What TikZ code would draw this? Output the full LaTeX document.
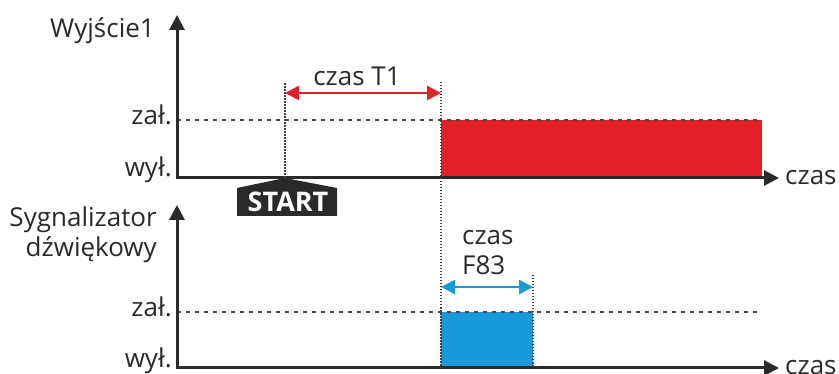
\documentclass[tikz,border=0pt]{standalone}
\usepackage{fontspec}
\setmainfont{Open Sans}
\usetikzlibrary{positioning, arrows.meta, calc}
\definecolor{ink}{RGB}{42,42,42}
\definecolor{relayred}{RGB}{227,32,38}
\definecolor{buzzblue}{RGB}{24,154,218}

\begin{document}
\begin{tikzpicture}[
    x=1pt, y=-1pt,
    font=\fontsize{26}{30}\selectfont,
    >={Triangle[length=15pt, width=15pt]},
    axis/.style={<->, line width=3pt, draw=ink, line join=miter},
    level/.style={line width=2pt, draw=ink!85, dash pattern=on 4pt off 5pt},
    guide/.style={line width=1.2pt, draw=ink!90, dash pattern=on 1.5pt off 1.5pt},
    span/.style={{Triangle[length=14pt, width=14pt]}-{Triangle[length=14pt, width=14pt]},
        line width=2.6pt, draw=#1},
    lbl/.style={text=ink, inner sep=0pt}
  ]
    \useasboundingbox (0,0) rectangle (839,374);
    % time marks
    \coordinate (start) at (285,178);
    \coordinate (t1end) at (441,82);
    \coordinate (f83end) at (533,275);
    % upper chart: Wyjscie1
    \coordinate (y1) at (177,15);
    \coordinate (o1) at (177,178);
    \coordinate (x1) at (779,178);
    \coordinate (on1) at (177,120);
    \fill[relayred] (441,120) rectangle (762,178);
    \draw[level] (on1) -- (762,120);
    \draw[axis] (y1) -- (o1) -- (x1);
    \node[lbl, anchor=base east] (name1) at (155,38) {Wyjście1};
    \node[lbl, anchor=base east] (zal1) at (172,125) {zał.};
    \node[lbl, anchor=base east] (wyl1) at (172,177) {wył.};
    \node[lbl, anchor=west, xshift=6pt] (czas1) at (x1) {czas};
    % lower chart: buzzer
    \coordinate (y2) at (177,205);
    \coordinate (o2) at (177,368);
    \coordinate (x2) at (779,368);
    \coordinate (on2) at (177,312);
    \fill[buzzblue] (441,312) rectangle (533,368);
    \draw[level] (on2) -- (762,312);
    \draw[axis] (y2) -- (o2) -- (x2);
    \node[lbl, anchor=base east, align=right] (name2) at (157,257) {Sygnalizator\\dźwiękowy};
    \node[lbl, anchor=base east] (zal2) at (172,317) {zał.};
    \node[lbl, anchor=base east] (wyl2) at (172,368) {wył.};
    \node[lbl, anchor=west, xshift=6pt] (czas2) at (x2) {czas};
    % guides and spans
    \draw[guide] (start) -- (285,82);
    \draw[guide] (t1end) -- (441,368);
    \draw[guide] (f83end) -- (533,368);
    \draw[span=relayred] (285,93) -- (441,93);
    \node[lbl, anchor=base] (t1txt) at (357,86) {czas T1};
    \draw[span=buzzblue] (441,287) -- (533,287);
    \node[lbl, anchor=base west, align=left] (f83txt) at (462,275) {czas\\F83};
    % START badge
    \fill[ink] (start) -- (337,188) -- (337,216) -- (237,216) -- (237,188) -- cycle;
    \node[text=white, font=\fontsize{27}{30}\selectfont\bfseries, anchor=base, inner sep=0pt]
        (startlbl) at (288,212) {START};
\end{tikzpicture}
\end{document}
